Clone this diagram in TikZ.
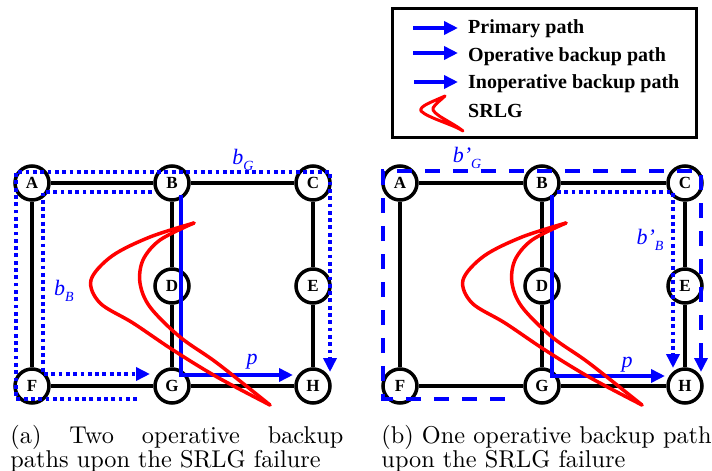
\documentclass[tikz,border=0pt]{standalone}
\usepackage{fontspec}
\newfontfamily\tnr{Liberation Serif}
\usetikzlibrary{arrows.meta,calc}
\newcommand{\mysub}[1]{\raisebox{-0.28em}{\fontsize{14}{14}\selectfont #1}}
\tikzset{
  edge/.style={line width=3.5pt,black},
  nd/.style={circle,draw=black,line width=3.5pt,fill=white,minimum size=34pt,inner sep=0pt,font=\tnr\bfseries\fontsize{17}{17}\selectfont},
  bl/.style={line width=3.5pt,blue,-{Triangle[length=14pt,width=13pt]}},
  dotpath/.style={bl,dash pattern=on 3.8pt off 3.5pt},
  dashpath/.style={bl,dash pattern=on 15pt off 13pt},
  srlg/.style={line width=3.5pt,red,line join=round,line cap=round},
  lbl/.style={text=blue,inner sep=0pt,font=\tnr\itshape\fontsize{22}{22}\selectfont},
  legtxt/.style={anchor=base west,inner sep=0pt,font=\tnr\bfseries\fontsize{20}{20}\selectfont},
  captxt/.style={anchor=base west,inner sep=0pt,scale=2.43}
}
\begin{document}
\begin{tikzpicture}[x=1pt,y=-1pt]
\path[use as bounding box] (0,0) rectangle (712,471);

% ---------- panels ----------
\foreach \p/\xa/\xb/\xc in {1/32/172/313, 2/400/542/685}{
  \node[nd] (A\p) at (\xa,183) {A};
  \node[nd] (B\p) at (\xb,183) {B};
  \node[nd] (C\p) at (\xc,183) {C};
  \node[nd] (D\p) at (\xb,286) {D};
  \node[nd] (E\p) at (\xc,286) {E};
  \node[nd] (F\p) at (\xa,386) {F};
  \node[nd] (G\p) at (\xb,386) {G};
  \node[nd] (H\p) at (\xc,386) {H};
}
\foreach \p in {1,2}{
  \draw[edge] (A\p) -- (B\p);
  \draw[edge] (B\p) -- (C\p);
  \draw[edge] (A\p) -- (F\p);
  \draw[edge] (B\p) -- (D\p);
  \draw[edge] (D\p) -- (G\p);
  \draw[edge] (C\p) -- (E\p);
  \draw[edge] (E\p) -- (H\p);
  \draw[edge] (F\p) -- (G\p);
  \draw[edge] (G\p) -- (H\p);
}

% ---------- panel (a) paths ----------
\draw[bl] ($(B1)+(9,12)$) -- ($(G1)+(9,-11)$) -- ($(H1)+(-20,-11)$);
\node[lbl] (p1) at (252,362) {p};
\draw[dotpath] ($(B1)+(-20,9)$) -- ($(A1)+(11,9)$) -- ($(F1)+(11,-12)$) -- ($(G1)+(-22,-12)$);
\node[lbl] (bB) at (64,291) {b\mysub{B}};
\draw[dotpath] ($(G1)+(-35,13)$) -- ($(F1)+(-16,13)$) -- ($(A1)+(-16,-11)$) -- ($(C1)+(17,-11)$) -- ($(H1)+(17,-14)$);
\node[lbl] (bG) at (243,160) {b\mysub{G}};

% ---------- panel (b) paths ----------
\draw[bl] ($(B2)+(10,12)$) -- ($(G2)+(10,-10)$) -- ($(H2)+(-20,-10)$);
\node[lbl] (p2) at (627,365) {p};
\draw[dotpath] ($(B2)+(15,9)$) -- ($(C2)+(-12,9)$) -- ($(H2)+(-12,-18)$);
\node[lbl] (bpB) at (650,240) {b’\mysub{B}};
\draw[dashpath] ($(G2)+(-37,13)$) -- ($(F2)+(-17,13)$) -- ($(A2)+(-17,-12)$) -- ($(C2)+(16,-12)$) -- ($(H2)+(16,-14)$);
\node[lbl] (bpG) at (467,158) {b’\mysub{G}};

% ---------- SRLG curves ----------
\foreach \s in {0,372}{
\begin{scope}[xshift=\s]
\draw[srlg] plot[smooth,tension=0.55] coordinates {(194,223) (150,237) (112,256) (91,280) (100,303) (133,323) (173,350) (217,377) (270,405)};
\draw[srlg] plot[smooth,tension=0.55] coordinates {(270,405) (217,363) (180,337) (150,307) (140,283) (143,260) (160,240) (194,223)};
\end{scope}
}

% ---------- legend ----------
\draw[line width=3pt] (392,8) rectangle (696,137);
\node[legtxt] (L1) at (468,33) {Primary path};
\node[legtxt] (L2) at (468,61) {Operative backup path};
\node[legtxt] (L3) at (468,88) {Inoperative backup path};
\node[legtxt] (L4) at (468,117) {SRLG};
\coordinate (a1s) at (413,28);  \coordinate (a1e) at (458,28);
\coordinate (a2s) at (413,53);  \coordinate (a2e) at (458,53);
\coordinate (a3s) at (414,82);  \coordinate (a3e) at (458,82);
\draw[bl] (a1s) -- (a1e);
\draw[bl] (a2s) -- (a2e);
\draw[bl] (a3s) -- (a3e);
\draw[srlg,line width=3pt] (445,96) .. controls (432,102) and (419,106) .. (421,111) .. controls (428,118) and (452,124) .. (463,131)
   .. controls (452,122) and (431,114) .. (433,108) .. controls (435,104) and (441,100) .. (445,96);

% ---------- captions ----------
\node[captxt] (ca1) at (10,443) {\makebox[137pt][s]{(a) Two operative backup}};
\node[captxt] (ca2) at (10,467) {paths upon the SRLG failure};
\node[captxt] (cb1) at (381,443) {(b) One operative backup path};
\node[captxt] (cb2) at (381,467) {upon the SRLG failure};
\end{tikzpicture}
\end{document}
